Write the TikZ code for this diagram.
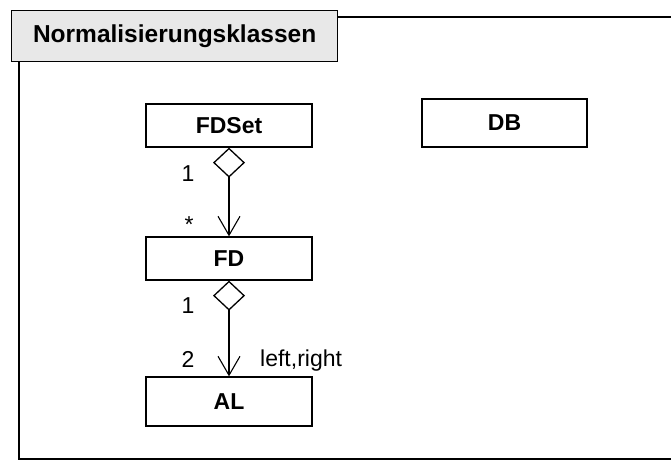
\documentclass[tikz,border=0pt]{standalone}
\usepackage{fontspec}
\setmainfont{Liberation Sans}
\usetikzlibrary{arrows.meta}

\tikzset{
  classbox/.style={draw=black, line width=1.3pt, fill=white, minimum width=166pt,
    inner sep=0pt, font=\fontsize{23}{25}\selectfont\bfseries},
  pkgtab/.style={draw=black, line width=1.3pt, fill=black!9, inner sep=0pt,
    font=\fontsize{24.5}{26}\selectfont\bfseries},
  mult/.style={inner sep=0pt, anchor=base, font=\fontsize{23}{25}\selectfont},
  aggr/.style={line width=1.3pt,
    {Diamond[open, fill=white, length=30pt, width=32pt]}-{Straight Barb[length=19pt, width=22pt, line width=1.1pt]}}
}

\begin{document}
\begin{tikzpicture}[x=1pt, y=-1pt]
	\useasboundingbox (0,0) rectangle (671,460);
	% package frame and its tab
	\draw [line width=1.3pt] (672,17) -- (19,17) -- (19,459) -- (672,459);
	\node [pkgtab, anchor=north west, minimum width=326pt, minimum height=51pt] (tab) at (11,10) {Normalisierungsklassen};
	% classes
	\node [classbox, minimum height=43pt] (fdset) at (229,125.5) {FDSet};
	\node [classbox, minimum height=48pt, minimum width=165pt] (db) at (504.5,123) {DB};
	\node [classbox, minimum height=43pt] (fd) at (229,258.5) {FD};
	\node [classbox, minimum height=49pt] (al) at (229,401.5) {AL};
	% aggregations
	\draw [aggr] (fdset.south) -- (fd.north);
	\draw [aggr] (fd.south) -- (al.north);
	% multiplicities and role
	\node [mult] (m1) at (188,181) {1};
	\node [mult] (m2) at (189,232) {*};
	\node [mult] (m3) at (188,313) {1};
	\node [mult] (m4) at (188,367) {2};
	\node [mult, anchor=base west] (role) at (260,366) {left,right};
\end{tikzpicture}
\end{document}
